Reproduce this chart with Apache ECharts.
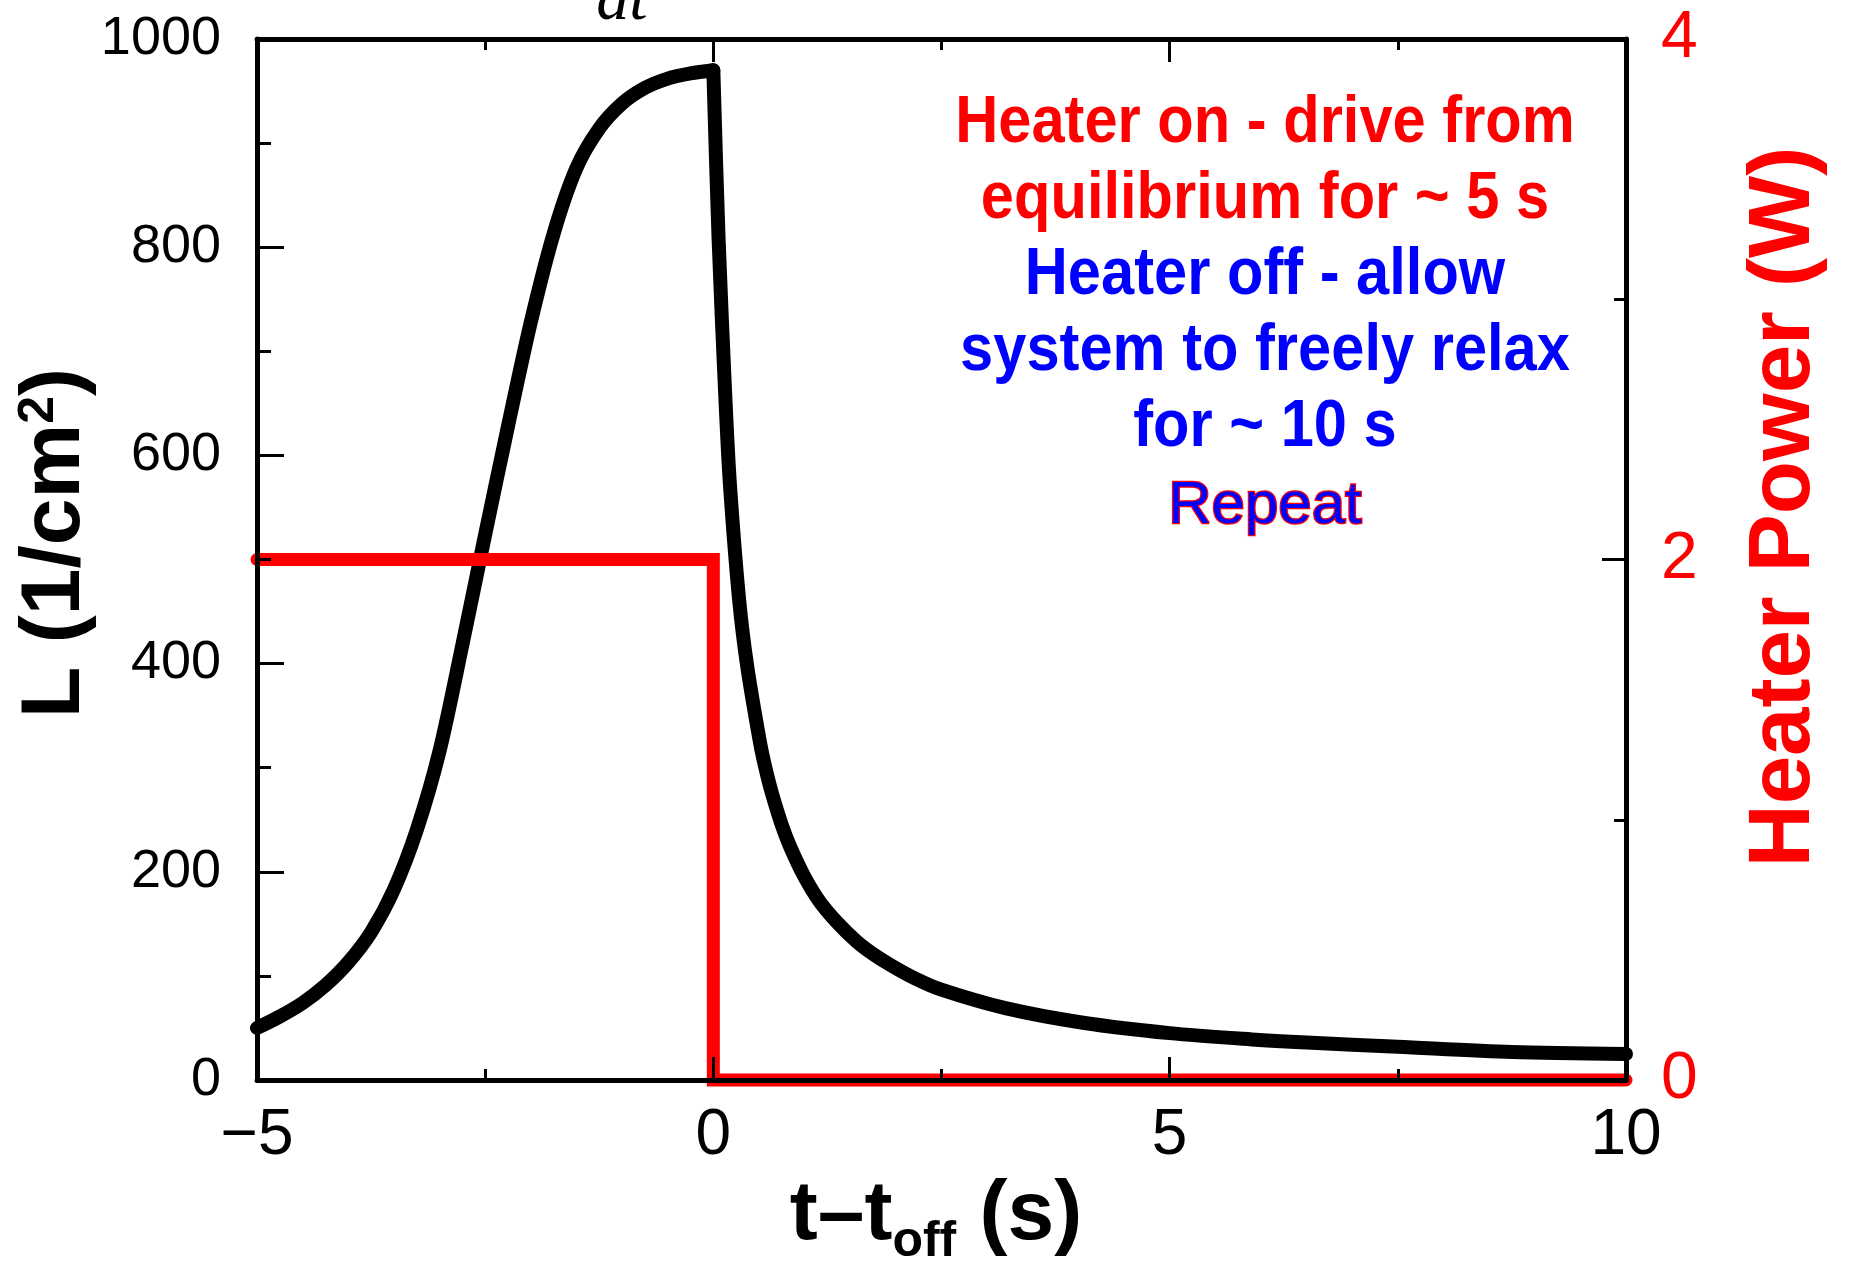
<!DOCTYPE html>
<html>
<head>
<meta charset="utf-8">
<script src="https://cdn.jsdelivr.net/npm/echarts@6/dist/echarts.min.js"></script>
<style>
  html, body { margin: 0; padding: 0; background: #ffffff; }
  #chart { width: 1850px; height: 1261px; }
</style>
</head>
<body>
<div id="chart"></div>
<script>
// ---- data ----
// L(t) while the heater is on (rise)
const riseT = [-5, -4.75, -4.5, -4.25, -4, -3.75, -3.5, -3.25, -3, -2.75, -2.5, -2.25, -2, -1.75, -1.5, -1.25, -1, -0.75, -0.5, -0.25, 0];
const riseL = [50, 61, 74, 91, 113, 142, 183, 240, 316, 418, 524, 628, 728, 813, 876, 914, 938, 953, 962, 967, 970];
// L(t) after the heater is switched off (free relaxation)
const decayT = [0, 0.058, 0.133, 0.182, 0.283, 0.372, 0.51, 0.57, 0.64, 0.75, 0.847, 1.0, 1.16, 1.35, 1.57, 1.75, 1.95, 2.2, 2.49, 3.2, 4.05, 5, 5.9, 6.5, 7.5, 8.75, 10];
const decayL = [970, 807, 653, 572, 461, 397, 325, 300, 276, 245, 223, 195, 172, 152, 133, 121, 110, 98, 87, 69, 55, 45, 39, 36, 32, 27, 25];
// heater power (W)
const timeP = [-5, 0, 0, 10];
const powerP = [2, 2, 0, 0];

const xRange = [-5, 10];
const xStep = 5;
const yLeftRange = [0, 1000];
const yLeftStep = 200;
const yRightRange = [0, 4];
const yRightStep = 2;

const noteLines = [
  { text: 'Heater on - drive from', color: '#ff0000' },
  { text: 'equilibrium for ~ 5 s', color: '#ff0000' },
  { text: 'Heater off - allow', color: '#0000ff' },
  { text: 'system to freely relax', color: '#0000ff' },
  { text: 'for ~ 10 s', color: '#0000ff' }
];
const repeatText = 'Repeat';

// ---- chart ----
const FONT = '"Liberation Sans", Arial, Helvetica, sans-serif';
const chart = echarts.init(document.getElementById('chart'), null, { renderer: 'canvas' });

const riseData = riseT.map((t, i) => [t, riseL[i]]);
const decayData = decayT.map((t, i) => [t, decayL[i]]);
const pData = timeP.map((t, i) => [t, powerP[i]]);

function xAxisCfg(pos, showLabel) {
  return {
    type: 'value', min: xRange[0], max: xRange[1], interval: xStep, position: pos, z: 5,
    axisLine: { show: true, onZero: false, lineStyle: { color: '#000', width: 5 } },
    axisTick: { show: true, inside: true, length: 23, lineStyle: { color: '#000', width: 3 } },
    minorTick: { show: true, splitNumber: 2, length: 11, lineStyle: { color: '#000', width: 3 } },
    axisLabel: {
      show: showLabel, fontSize: 64, color: '#000', margin: 24, fontFamily: FONT,
      showMinLabel: true, showMaxLabel: true,
      formatter: v => (v < 0 ? '\u2212' + Math.abs(v) : String(v))
    },
    splitLine: { show: false }, minorSplitLine: { show: false }
  };
}

const noteGraphics = noteLines.map((ln, i) => ({
  type: 'text', x: 1265, y: 124 + i * 76, scaleX: 0.89, z: 10,
  style: { text: ln.text, font: 'bold 67px ' + FONT, fill: ln.color, align: 'center', verticalAlign: 'middle' }
}));

const lineStyleL = { color: '#000', width: 14, cap: 'round', join: 'round' };

const option = {
  animation: false,
  backgroundColor: '#ffffff',
  textStyle: { fontFamily: FONT },
  grid: { left: 257, right: 224, top: 39, bottom: 181, containLabel: false },
  xAxis: [xAxisCfg('bottom', true), xAxisCfg('top', false)],
  yAxis: [
    {
      type: 'value', min: yLeftRange[0], max: yLeftRange[1], interval: yLeftStep, position: 'left', z: 5,
      axisLine: { show: true, onZero: false, lineStyle: { color: '#000', width: 5 } },
      axisTick: { show: true, inside: true, length: 27, lineStyle: { color: '#000', width: 3 } },
      minorTick: { show: true, splitNumber: 2, length: 14, lineStyle: { color: '#000', width: 3 } },
      axisLabel: { fontSize: 54, color: '#000', margin: 36, fontFamily: FONT, showMinLabel: true, showMaxLabel: true,
        formatter: v => String(v) },
      splitLine: { show: false }
    },
    {
      type: 'value', min: yRightRange[0], max: yRightRange[1], interval: yRightStep, position: 'right', z: 5,
      axisLine: { show: true, onZero: false, lineStyle: { color: '#000', width: 5 } },
      axisTick: { show: true, inside: true, length: 24, lineStyle: { color: '#000', width: 3 } },
      minorTick: { show: true, splitNumber: 2, length: 12, lineStyle: { color: '#000', width: 3 } },
      axisLabel: { fontSize: 66, color: '#ff0000', margin: 35, fontFamily: FONT, showMinLabel: true, showMaxLabel: true,
        formatter: v => String(v) },
      splitLine: { show: false }
    }
  ],
  series: [
    {
      type: 'line', name: 'L rise', xAxisIndex: 0, yAxisIndex: 0, data: riseData,
      symbol: 'none', showSymbol: false, clip: false, smooth: 0.3,
      lineStyle: lineStyleL
    },
    {
      type: 'line', name: 'L decay', xAxisIndex: 0, yAxisIndex: 0, data: decayData,
      symbol: 'none', showSymbol: false, clip: false, smooth: 0.3,
      lineStyle: lineStyleL
    },
    {
      type: 'line', name: 'Heater Power', xAxisIndex: 0, yAxisIndex: 1, data: pData,
      symbol: 'none', showSymbol: false, clip: false, smooth: false,
      lineStyle: { color: '#ff0000', width: 13, cap: 'round', join: 'miter' }
    }
  ],
  graphic: [
    {
      type: 'text', x: 622, y: 2, z: 10,
      style: { text: 'dt', font: 'italic 66px "Liberation Serif", "Times New Roman", serif', fill: '#000', align: 'center', verticalAlign: 'middle' }
    },
    {
      type: 'text', x: 56, y: 543, rotation: Math.PI / 2, z: 10,
      style: {
        text: '{a|L (1/cm}{b|2}{a|)}', align: 'center', verticalAlign: 'middle', fill: '#000',
        font: 'bold 84px ' + FONT,
        rich: {
          a: { font: 'bold 84px ' + FONT, lineHeight: 84, verticalAlign: 'bottom', fill: '#000' },
          b: { font: 'bold 50px ' + FONT, lineHeight: 50, verticalAlign: 'top', fill: '#000' }
        }
      }
    },
    {
      type: 'text', x: 1785, y: 507, rotation: Math.PI / 2, z: 10,
      style: { text: 'Heater Power (W)', font: 'bold 87px ' + FONT, fill: '#ff0000', align: 'center', verticalAlign: 'middle' }
    },
    {
      type: 'text', x: 936, y: 1174, z: 10,
      style: {
        text: '{a|t\u2013t}{b|off}{a| (s)}', align: 'center', verticalAlign: 'top', fill: '#000',
        font: 'bold 84px ' + FONT,
        rich: {
          a: { font: 'bold 84px ' + FONT, lineHeight: 84, verticalAlign: 'top', fill: '#000' },
          b: { font: 'bold 50px ' + FONT, verticalAlign: 'top', padding: [43, 0, 0, 0], fill: '#000' }
        }
      }
    },
    ...noteGraphics,
    {
      type: 'text', x: 1265, y: 506, z: 10,
      style: { text: repeatText, font: '60px ' + FONT, fill: '#0000ff', stroke: '#ff0000', lineWidth: 2.5, align: 'center', verticalAlign: 'middle' }
    }
  ]
};
chart.setOption(option);
</script>
</body>
</html>
